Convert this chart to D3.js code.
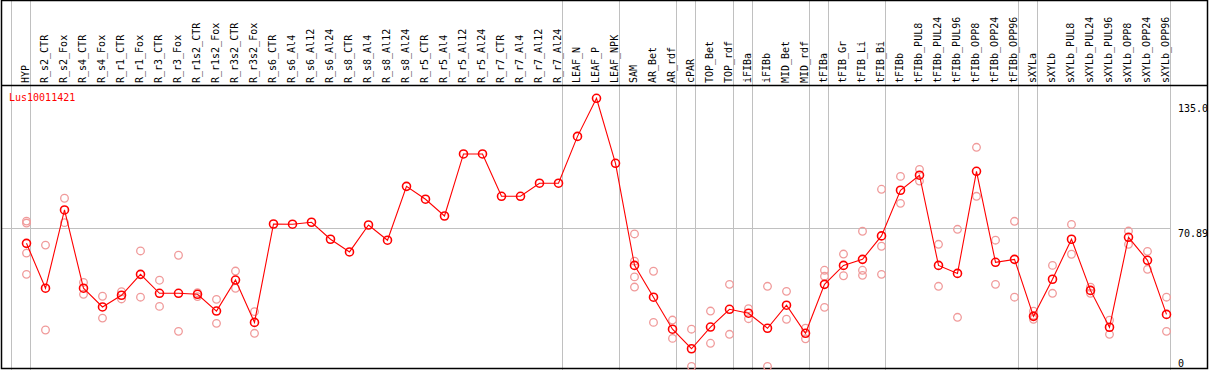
<!DOCTYPE html>
<html lang="en">
<head>
    <meta charset="UTF-8">
    <title>Lus10011421</title>
    <script src="https://d3js.org/d3.v7.min.js"></script>
    <style>
        body { margin: 0; background: #fff; }
        text { font-family: "DejaVu Sans Mono", monospace; font-size: 10px; }
    </style>
</head>
<body>
    <script>
        // sample names, left to right
        var samples = ["HYP", "R_s2_CTR", "R_s2_Fox", "R_s4_CTR", "R_s4_Fox", "R_r1_CTR", "R_r1_Fox",
            "R_r3_CTR", "R_r3_Fox", "R_r1s2_CTR", "R_r1s2_Fox", "R_r3s2_CTR", "R_r3s2_Fox",
            "R_s6_CTR", "R_s6_Al4", "R_s6_Al12", "R_s6_Al24", "R_s8_CTR", "R_s8_Al4", "R_s8_Al12", "R_s8_Al24",
            "R_r5_CTR", "R_r5_Al4", "R_r5_Al12", "R_r5_Al24", "R_r7_CTR", "R_r7_Al4", "R_r7_Al12", "R_r7_Al24",
            "LEAF_N", "LEAF_P", "LEAF_NPK", "SAM", "AR_Bet", "AR_rdf", "cPAR", "TOP_Bet", "TOP_rdf",
            "iFIBa", "iFIBb", "MID_Bet", "MID_rdf", "tFIBa", "tFIB_Gr", "tFIB_Li", "tFIB_Bi", "tFIBb",
            "tFIBb_PUL8", "tFIBb_PUL24", "tFIBb_PUL96", "tFIBb_OPP8", "tFIBb_OPP24", "tFIBb_OPP96",
            "sXYLa", "sXYLb", "sXYLb_PUL8", "sXYLb_PUL24", "sXYLb_PUL96", "sXYLb_OPP8", "sXYLb_OPP24", "sXYLb_OPP96"];

        // mean expression per sample
        var means = [63.1, 40.1, 80.2, 40.1, 30.5, 36.5, 47.2, 37.5, 37.5, 37.0, 28.4, 44.3, 22.6,
            73.0, 72.9, 73.9, 65.2, 58.7, 72.5, 64.7, 92.3, 85.7, 77.1, 108.9, 108.9, 87.2, 87.2, 93.9, 93.9,
            117.9, 137.4, 104.1, 51.8, 35.5, 19.1, 9.1, 20.2, 29.3, 27.3, 19.6, 31.4, 17.0,
            42.1, 51.8, 54.9, 66.9, 90.3, 98.0, 51.8, 47.7, 100.0, 53.4, 54.9,
            25.7, 44.7, 65.2, 39.0, 20.1, 66.2, 54.4, 26.7];

        // replicate values per sample (empty where only the mean shows)
        var replicates = [
            [74.5, 73.5, 58.1, 47.2], [62.2, 18.7], [86.2, 73.7], [43.1, 37.0], [36.0, 24.8],
            [38.3, 34.6], [59.2, 35.5], [44.2, 30.8], [57.0, 18.0], [37.8, 35.8], [34.4, 22.1],
            [48.9, 40.1], [28.1, 17.0],
            [], [], [], [], [], [], [], [], [], [], [], [], [], [], [], [],
            [], [], [],
            [67.9, 54.0, 45.9, 40.7], [48.8, 22.6], [23.8, 14.4], [19.1, 0], [28.4, 11.9], [42.1, 16.5],
            [29.6, 24.5], [41.1, 0], [38.5, 24.2], [19.6, 14.2],
            [49.3, 46.2, 30.3], [57.6, 46.5], [69.3, 49.3, 46.7], [90.8, 61.6, 47.2], [97.4, 83.6],
            [101.0, 95.0], [62.6, 41.1], [70.3, 25.2], [112.3, 87.2], [64.7, 42.1], [74.4, 35.5],
            [28.3, 26.2, 24.2], [51.8, 37.5], [72.8, 57.5], [40.6, 37.5], [23.7, 16.5], [69.4, 62.6],
            [59.0, 49.8], [35.5, 18.0]];

        // group boundaries: a gray rule after these sample indices
        var separators = [-1, 0, 28, 31, 34, 35, 37, 38, 41, 42, 45, 52, 53, 60];

        // right axis ticks
        var tickValues = [0, 70.89, 135.0];
        var tickLabels = ["0", "70.89", "135.0"];

        var width = 1209;
        var height = 370;
        var header = 85;
        var right_edge = 1171; // where the plot area stops and the axis labels begin

        var svg = d3.select('body').append('svg')
            .attr('width', width)
            .attr('height', height);

        var x = d3.scaleLinear().domain([0, samples.length - 1]).range([26.5, 1166.5]);
        var y = d3.scaleLinear().domain([0, 135]).range([366.5, 103]);

        // group separators, full height
        svg.selectAll('line.sep')
            .data(separators)
            .enter()
            .append('line')
            .attr('class', 'sep')
            .attr('x1', function (d) { return Math.round(x(d) + 3.7) + 0.5; })
            .attr('x2', function (d) { return Math.round(x(d) + 3.7) + 0.5; })
            .attr('y1', 0)
            .attr('y2', height)
            .style('stroke', '#c0c0c0');

        // horizontal reference rule at 70.89
        svg.append('line')
            .attr('x1', 1)
            .attr('x2', right_edge)
            .attr('y1', Math.round(y(70.89)) + 0.5)
            .attr('y2', Math.round(y(70.89)) + 0.5)
            .style('stroke', '#c0c0c0');

        // frame and header rule
        svg.append('rect')
            .attr('x', 1.5).attr('y', 0.5)
            .attr('width', 1206).attr('height', 368)
            .style('fill', 'none')
            .style('stroke', '#000')
            .style('stroke-width', 1.5);
        svg.append('line')
            .attr('x1', 1).attr('x2', 1208)
            .attr('y1', header + 0.5).attr('y2', header + 0.5)
            .style('stroke', '#000')
            .style('stroke-width', 1.5);

        // rotated sample labels
        svg.selectAll('text.sample')
            .data(samples)
            .enter()
            .append('text')
            .attr('class', 'sample')
            .attr('transform', function (d, i) {
                return 'translate(' + (x(i) + 2.5) + ',' + (header - 2) + ') rotate(-90)';
            })
            .style('fill', '#000')
            .text(function (d) { return d; });

        // gene name
        svg.append('text')
            .attr('x', 9)
            .attr('y', 101)
            .style('fill', '#ff0000')
            .text('Lus10011421');

        // right axis
        var axis = d3.axisRight(y)
            .tickValues(tickValues)
            .tickSize(0)
            .tickPadding(0)
            .tickFormat(function (d, i) { return tickLabels[i]; });
        var gAxis = svg.append('g')
            .attr('transform', 'translate(1178,0)')
            .call(axis);
        gAxis.select('.domain').remove();
        gAxis.selectAll('text')
            .attr('dy', null)
            .attr('y', function (d) { return Math.min(8, 366 - y(d)); })
            .style('font-family', '"DejaVu Sans Mono", monospace')
            .style('font-size', '10px')
            .style('fill', '#000');

        // replicate points
        var reps = [];
        replicates.forEach(function (r, i) {
            r.forEach(function (v) { reps.push({ i: i, v: v }); });
        });
        svg.selectAll('circle.rep')
            .data(reps)
            .enter()
            .append('circle')
            .attr('class', 'rep')
            .attr('cx', function (d) { return x(d.i); })
            .attr('cy', function (d) { return y(d.v); })
            .attr('r', 3.8)
            .style('fill', 'none')
            .style('stroke', '#f09a9a')
            .style('stroke-width', 1.3);

        // mean line
        var line = d3.line()
            .x(function (d, i) { return x(i); })
            .y(function (d) { return y(d); });
        svg.append('path')
            .datum(means)
            .attr('d', line)
            .style('fill', 'none')
            .style('stroke', '#ff0000')
            .style('stroke-width', 1.1);

        // mean points
        svg.selectAll('circle.mean')
            .data(means)
            .enter()
            .append('circle')
            .attr('class', 'mean')
            .attr('cx', function (d, i) { return x(i); })
            .attr('cy', function (d) { return y(d); })
            .attr('r', 4)
            .style('fill', 'none')
            .style('stroke', '#ff0000')
            .style('stroke-width', 1.6);
    </script>
</body>
</html>
